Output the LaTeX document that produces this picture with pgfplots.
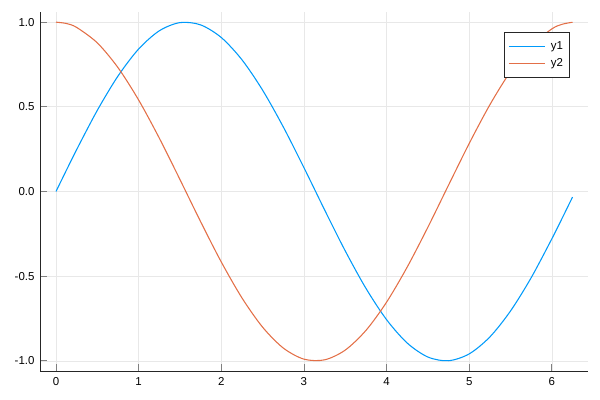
\documentclass[border=0pt]{standalone}
\usepackage{pgfplots}
\pgfplotsset{compat=1.18}
\usepackage{fontspec}
\setmainfont{Liberation Sans}
\definecolor{c1}{RGB}{0,154,250}
\definecolor{c2}{RGB}{227,111,71}
\begin{document}
\begin{tikzpicture}
\path[use as bounding box] (0,0) rectangle (450pt,300pt);
\begin{axis}[
  at={(30.375pt,21.75pt)}, anchor=south west,
  scale only axis, width=410.625pt, height=269.25pt,
  xmin=-0.1875, xmax=6.4375, ymin=-1.06, ymax=1.06,
  axis x line*=bottom, axis y line*=left,
  axis line style={black!85, line width=0.7pt, -},
  xtick={0,1,2,3,4,5,6},
  ytick={-1,-0.5,0,0.5,1},
  yticklabels={-1.0,-0.5,0.0,0.5,1.0},
  tick align=inside, major tick length=5pt,
  tick style={black!50, line width=0.6pt},
  grid=major, major grid style={black!9, line width=0.5pt},
  tick label style={font=\fontsize{8.6}{10}\selectfont},
  /pgf/number format/assume math mode=true,
  xticklabel style={yshift=-1.5pt},
  yticklabel style={xshift=-1pt},
  legend style={at={(0.9671,0.9435)}, anchor=north east, draw=black!85, line width=0.6pt,
    font=\fontsize{8.6}{10}\selectfont, inner xsep=3pt, inner ysep=4.5pt,
    column sep=2pt, row sep=1.5pt},
  legend cell align=left,
  legend image code/.code={\draw[#1] plot coordinates {(0pt,0pt) (13.5pt,0pt) (27pt,0pt)};},
]
\addplot[color=c1, line width=0.8pt, smooth] coordinates {
(0,0) (0.125,0.12467) (0.25,0.24740) (0.5,0.47943) (0.75,0.68164) (1.0,0.84147) (1.25,0.94898)
(1.5,0.99749) (1.75,0.98398) (2.0,0.90930) (2.25,0.77807) (2.5,0.59847)
(2.75,0.38166) (3.0,0.14112) (3.25,-0.10820) (3.5,-0.35078) (3.75,-0.57156)
(4.0,-0.75680) (4.25,-0.89499) (4.5,-0.97753) (4.75,-0.99929)
(5.0,-0.95892) (5.25,-0.85893) (5.5,-0.70554) (5.75,-0.50904) (6.0,-0.27942)
(6.125,-0.15753) (6.25,-0.03318)};
\addlegendentry{y1\hspace{5pt}}
\addplot[color=c2, line width=0.8pt, smooth] coordinates {
(0,1) (0.125,0.99220) (0.25,0.96891) (0.5,0.87758) (0.75,0.73169) (1.0,0.54030) (1.25,0.31532)
(1.5,0.07074) (1.75,-0.17825) (2.0,-0.41615) (2.25,-0.62817) (2.5,-0.80114)
(2.75,-0.92430) (3.0,-0.98999) (3.25,-0.99413) (3.5,-0.93646)
(3.75,-0.82056) (4.0,-0.65364) (4.25,-0.44609) (4.5,-0.21080) (4.75,0.03760)
(5.0,0.28366) (5.25,0.51209) (5.5,0.70867) (5.75,0.86073) (6.0,0.96017)
(6.125,0.98752) (6.25,0.99945)};
\addlegendentry{y2\hspace{5pt}}
\end{axis}
\end{tikzpicture}
\end{document}
